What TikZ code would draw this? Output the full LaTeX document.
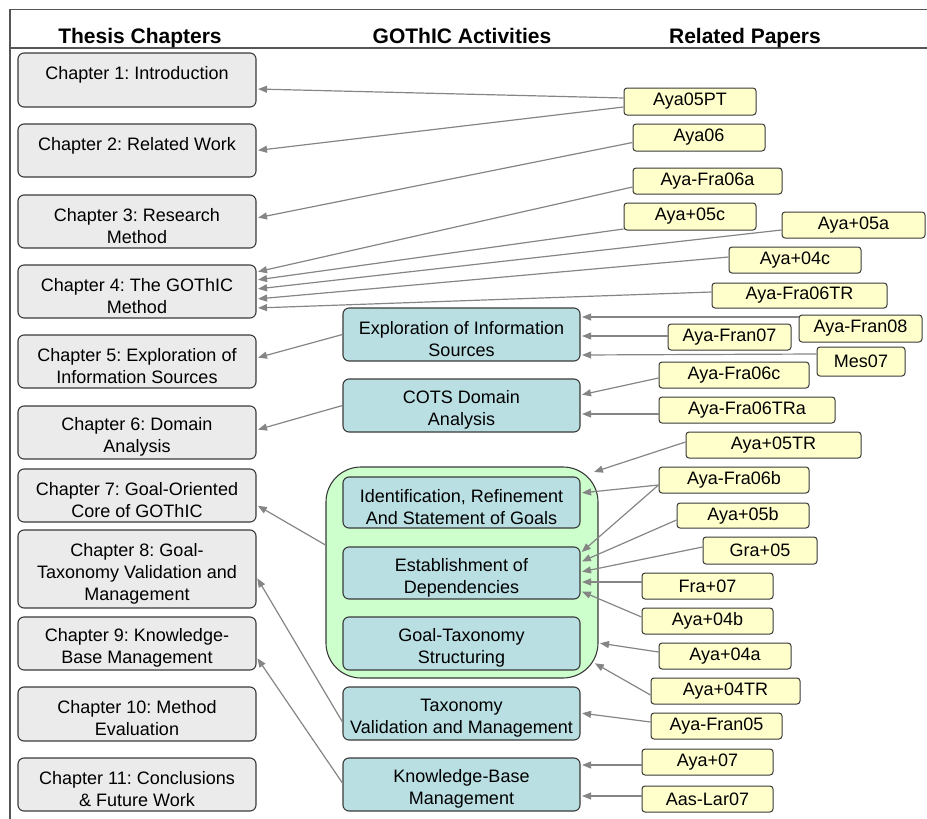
\documentclass[tikz,border=0pt]{standalone}
\usepackage{fontspec}
\setmainfont{Liberation Sans}
\usetikzlibrary{arrows.meta}
\frenchspacing

\definecolor{chapfill}{HTML}{EBEBEB}
\definecolor{actfill}{HTML}{B9DFE3}
\definecolor{groupfill}{HTML}{CCFFCC}
\definecolor{paperfill}{HTML}{FFFFCC}
\definecolor{edgegray}{HTML}{3A3A3A}
\definecolor{linkgray}{HTML}{858585}
\definecolor{framegray}{HTML}{555555}

% extra room above the first line, so two-line labels sit a little low
\newcommand\firstlinegap{\rule{0pt}{22pt}}

\tikzset{
  txt/.style={font=\fontsize{18}{22}\selectfont, align=center, inner sep=2pt},
  heading/.style={font=\fontsize{21}{25}\selectfont\bfseries, anchor=base, inner sep=0pt},
  chap/.style={txt, draw=edgegray, line width=1.1pt, fill=chapfill, rounded corners=6pt,
    minimum width=238pt},
  act/.style={txt, draw=edgegray, line width=1.1pt, fill=actfill, rounded corners=6pt,
    minimum width=237pt},
  grp/.style={draw=edgegray, line width=1.1pt, fill=groupfill, rounded corners=35pt,
    minimum width=272pt, minimum height=211pt, inner sep=0pt},
  paper/.style={txt, draw=edgegray, line width=1pt, fill=paperfill, rounded corners=3pt,
    minimum height=26pt, inner sep=1pt},
  link/.style={draw=linkgray, line width=1.2pt, shorten >=1.5pt,
    -{Triangle[length=9pt, width=7pt]}},
}

\begin{document}
\begin{tikzpicture}[x=1pt, y=-1pt]
\useasboundingbox (0,0) rectangle (927,819);

% frame and heading rule
\coordinate (ftl) at (10,9.5);
\coordinate (ftr) at (927,9.5);
\coordinate (fbl) at (10,819);
\coordinate (hl) at (10,48);
\coordinate (hr) at (927,48);
\draw[framegray, line width=1.4pt] (fbl) -- (ftl) -- (ftr);
\draw[framegray, line width=1.4pt] (hl) -- (hr);

% column headings
\node[heading] (h1) at (140,43) {Thesis Chapters};
\node[heading] (h2) at (462,43) {GOThIC Activities};
\node[heading] (h3) at (745,43) {Related Papers};

% thesis chapters
\node[chap, minimum height=54pt, text depth=14pt] (c1) at (137,80) {Chapter 1: Introduction};
\node[chap, minimum height=53pt, text depth=14pt] (c2) at (137,150.5) {Chapter 2: Related Work};
\node[chap, minimum height=53pt] (c3) at (137,221.5) {\firstlinegap Chapter 3: Research\\Method};
\node[chap, minimum height=53pt] (c4) at (137,291.5) {\firstlinegap Chapter 4: The GOThIC\\Method};
\node[chap, minimum height=53pt] (c5) at (137,361.5) {\firstlinegap Chapter 5: Exploration of\\Information Sources};
\node[chap, minimum height=53pt] (c6) at (137,432.5) {\firstlinegap Chapter 6: Domain\\Analysis};
\node[chap, minimum height=53pt] (c7) at (137,495.5) {\firstlinegap Chapter 7: Goal-Oriented\\Core of GOThIC};
\node[chap, minimum height=78pt] (c8) at (137,569) {\firstlinegap Chapter 8: Goal-\\Taxonomy Validation and\\Management};
\node[chap, minimum height=53pt] (c9) at (137,643.5) {\firstlinegap Chapter 9: Knowledge-\\Base Management};
\node[chap, minimum height=54pt] (c10) at (137,714) {\firstlinegap Chapter 10: Method\\Evaluation};
\node[chap, minimum height=53pt] (c11) at (137,784.5) {\firstlinegap Chapter 11: Conclusions\\\& Future Work};

% goal-oriented core group
\node[grp] (core) at (462,572.5) {};

% GOThIC activities
\node[act, minimum height=53pt] (a1) at (461.5,334.5) {\firstlinegap Exploration of Information\\Sources};
\node[act, minimum height=53pt] (a2) at (461.5,405.5) {\firstlinegap COTS Domain\\Analysis};
\node[act, minimum height=51pt] (a3) at (461.5,502.5) {\firstlinegap Identification, Refinement\\And Statement of Goals};
\node[act, minimum height=52pt] (a4) at (461.5,573) {\firstlinegap Establishment of\\Dependencies};
\node[act, minimum height=53pt] (a5) at (461.5,643.5) {\firstlinegap Goal-Taxonomy\\Structuring};
\node[act, minimum height=53pt] (a6) at (461.5,713.5) {\firstlinegap Taxonomy\\Validation and Management};
\node[act, minimum height=53pt] (a7) at (461.5,784.5) {\firstlinegap Knowledge-Base\\Management};

% related papers
\node[paper, minimum width=132pt, minimum height=27pt] (p1) at (690,101.5) {Aya05PT};
\node[paper, minimum width=132pt, minimum height=27pt] (p2) at (699,137.5) {Aya06};
\node[paper, minimum width=149pt] (p3) at (707.5,181) {Aya-Fra06a};
\node[paper, minimum width=132pt, minimum height=27pt] (p4) at (690,216.5) {Aya+05c};
\node[paper, minimum width=143pt] (p5) at (853.5,225) {Aya+05a};
\node[paper, minimum width=132pt] (p6) at (795,260) {Aya+04c};
\node[paper, minimum width=175pt, minimum height=25pt] (p7) at (799.5,295.5) {Aya-Fra06TR};
\node[paper, minimum width=123pt, minimum height=27pt] (p8) at (860.5,328.5) {Aya-Fran08};
\node[paper, minimum width=123pt] (p9) at (729.5,337) {Aya-Fran07};
\node[paper, minimum width=88pt, minimum height=29pt] (p10) at (861,361.5) {Mes07};
\node[paper, minimum width=150pt] (p11) at (734,375) {Aya-Fra06c};
\node[paper, minimum width=176pt] (p12) at (747,410) {Aya-Fra06TRa};
\node[paper, minimum width=175pt] (p13) at (773.5,445) {Aya+05TR};
\node[paper, minimum width=150pt] (p14) at (734,480) {Aya-Fra06b};
\node[paper, minimum width=132pt, minimum height=25pt] (p15) at (743,515.5) {Aya+05b};
\node[paper, minimum width=114pt, minimum height=27pt] (p16) at (760,550.5) {Gra+05};
\node[paper, minimum width=131pt] (p17) at (707.5,586) {Fra+07};
\node[paper, minimum width=131pt] (p18) at (707.5,621) {Aya+04b};
\node[paper, minimum width=132pt] (p19) at (725,656) {Aya+04a};
\node[paper, minimum width=149pt] (p20) at (725.5,691) {Aya+04TR};
\node[paper, minimum width=131pt] (p21) at (716.5,726) {Aya-Fran05};
\node[paper, minimum width=131pt] (p22) at (707.5,762) {Aya+07};
\node[paper, minimum width=131pt] (p23) at (707.5,799) {Aas-Lar07};

% papers -> chapters
\draw[link] ([yshift=3.5pt]p1.west) -- ([yshift=-9pt]c1.east);
\draw[link] ([yshift=-5.5pt]p1.west) -- (c2.east);
\draw[link] ([yshift=-5pt]p2.west) -- ([yshift=3.5pt]c3.east);
\draw[link] ([yshift=-6pt]p3.west) -- ([yshift=19.5pt]c4.east);
\draw[link] ([yshift=-12.5pt]p4.west) -- ([yshift=11.5pt]c4.east);
\draw[link] ([yshift=-5pt]p5.west) -- ([yshift=2.5pt]c4.east);
\draw[link] ([yshift=3pt]p6.west) -- ([yshift=-7.5pt]c4.east);
\draw[link] ([yshift=3.5pt]p7.west) -- ([yshift=-16.5pt]c4.east);

% activities -> chapters
\draw[link] (a1.west) -- ([yshift=3.5pt]c5.east);
\draw[link] (a2.west) -- ([yshift=2.5pt]c6.east);
\draw[link] ([yshift=27.5pt]core.west) -- ([yshift=-9.5pt]c7.east);
\draw[link] ([yshift=-8.5pt]a6.west) -- ([yshift=-8pt]c8.east);
\draw[link] ([yshift=1.5pt]a7.west) -- ([yshift=-13.5pt]c9.east);

% papers -> activities
\draw[link] ([yshift=11.5pt]p8.west) -- ([yshift=17.5pt]a1.east);
\draw[link] ([yshift=1pt]p9.west) -- ([yshift=-1.5pt]a1.east);
\draw[link] ([yshift=7.5pt]p10.west) -- ([yshift=-20.5pt]a1.east);
\draw[link] ([yshift=-3pt]p11.west) -- ([yshift=10.5pt]a2.east);
\draw[link] ([yshift=-4pt]p12.west) -- ([yshift=-8.5pt]a2.east);
\draw[link] ([yshift=3pt]p13.west) -- ([xshift=-6pt,yshift=-6pt]core.north east);
\draw[link] ([yshift=-5pt]p14.west) -- ([yshift=9.5pt]a3.east);
\draw[link] ([yshift=-5pt]p14.west) -- ([yshift=20pt]a4.east);
\draw[link] ([yshift=-4.5pt]p15.west) -- ([yshift=11pt]a4.east);
\draw[link] ([yshift=3.5pt]p16.west) -- ([yshift=1pt]a4.east);
\draw[link] ([yshift=4pt]p17.west) -- ([yshift=-9pt]a4.east);
\draw[link] ([yshift=4pt]p18.west) -- ([yshift=-18pt]a4.east);
\draw[link] ([yshift=4pt]p19.west) -- ([yshift=-70.5pt]core.east);
\draw[link] ([yshift=-4pt]p20.west) -- ([xshift=-5pt,yshift=16pt]core.south east);
\draw[link] ([yshift=4pt]p21.west) -- ([yshift=0.5pt]a6.east);
\draw[link] ([yshift=-3pt]p22.west) -- ([yshift=19.5pt]a7.east);
\draw[link] ([yshift=3pt]p23.west) -- ([yshift=-11.5pt]a7.east);
\end{tikzpicture}
\end{document}
